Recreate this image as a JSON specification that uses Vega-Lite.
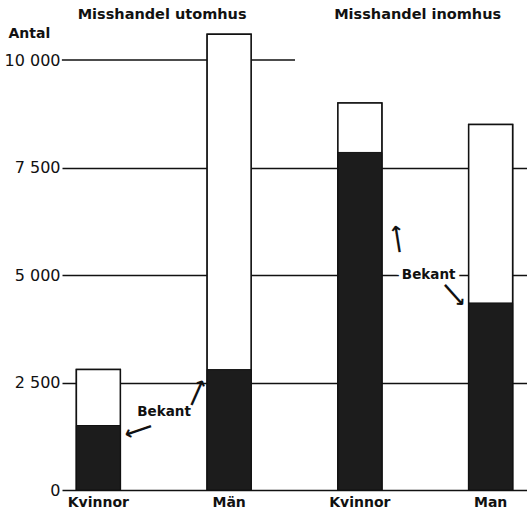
{
  "$schema": "https://vega.github.io/schema/vega-lite/v6.json",
  "width": 465,
  "height": 473,
  "autosize": {"type": "none"},
  "padding": {"left": 62, "top": 17, "right": 0, "bottom": 26},
  "background": "white",
  "config": {"view": {"stroke": null}, "font": "DejaVu Sans"},
  "data": {"values": [
    {"bar": "Kvinnor", "grupp": "utomhus", "totalt": 2800, "bekant": 1500},
    {"bar": "Män", "grupp": "utomhus", "totalt": 10600, "bekant": 2800},
    {"bar": "Kvinnor ", "grupp": "inomhus", "totalt": 9000, "bekant": 7850},
    {"bar": "Man", "grupp": "inomhus", "totalt": 8500, "bekant": 4350}
  ]},
  "encoding": {
    "x": {
      "field": "bar", "type": "nominal", "sort": null,
      "scale": {"type": "band", "paddingInner": 0.664, "paddingOuter": 0.11},
      "axis": {"title": null, "labelAngle": 0, "ticks": false, "domain": true, "domainColor": "#111", "domainWidth": 1.6,
               "labelFont": "DejaVu Sans", "labelFontWeight": "bold", "labelFontSize": 14, "labelColor": "#111", "labelPadding": 5}
    }
  },
  "layer": [
    {
      "mark": {"type": "bar", "fill": "white", "stroke": "#111", "strokeWidth": 1.5},
      "encoding": {
        "y": {
          "field": "totalt", "type": "quantitative",
          "scale": {"domain": [0, 11000], "nice": false},
          "axis": {
            "values": [0, 2500, 5000, 7500, 10000],
            "labelExpr": "replace(format(datum.value, ','), ',', ' ')",
            "labelFont": "DejaVu Sans", "labelFontSize": 16, "labelColor": "#111", "labelPadding": 2,
            "ticks": false, "domain": false,
            "grid": true, "gridColor": "#111", "gridWidth": 1.5,
            "gridOpacity": {"condition": {"test": "datum.value === 10000 || datum.value === 0", "value": 0}, "value": 1},
            "title": "Antal", "titleFont": "DejaVu Sans", "titleAngle": 0, "titleAlign": "left", "titleBaseline": "middle",
            "titleX": -54, "titleY": 16, "titleFontSize": 14, "titleFontWeight": "bold", "titleColor": "#111"
          }
        }
      }
    },
    {
      "data": {"values": [{}]},
      "mark": {"type": "rule", "stroke": "#111", "strokeWidth": 1.5},
      "encoding": {
        "x": {"datum": "Kvinnor", "bandPosition": -0.33},
        "x2": {"datum": "Män", "bandPosition": 2.0},
        "y": {"datum": 10000}
      }
    },
    {
      "mark": {"type": "bar", "fill": "white", "stroke": "#111", "strokeWidth": 1.5},
      "encoding": {"y": {"field": "totalt", "type": "quantitative"}}
    },
    {
      "mark": {"type": "bar", "fill": "#1c1c1c", "stroke": "#111", "strokeWidth": 1},
      "encoding": {"y": {"field": "bekant", "type": "quantitative"}}
    },
    {
      "data": {"values": [{}]},
      "mark": {"type": "text", "text": "Misshandel utomhus", "fontWeight": "bold", "fontSize": 14.5, "fill": "#111", "dx": -67, "baseline": "middle"},
      "encoding": {"x": {"datum": "Män"}, "y": {"datum": 11050}}
    },
    {
      "data": {"values": [{}]},
      "mark": {"type": "text", "text": "Misshandel inomhus", "fontWeight": "bold", "fontSize": 14.5, "fill": "#111", "dx": -73, "baseline": "middle"},
      "encoding": {"x": {"datum": "Man"}, "y": {"datum": 11050}}
    },
    {
      "data": {"values": [{}]},
      "mark": {"type": "text", "text": "Bekant", "fontWeight": "bold", "fontSize": 13.5, "fill": "#111", "dx": -65, "baseline": "middle"},
      "encoding": {"x": {"datum": "Män"}, "y": {"datum": 1814}}
    },
    {
      "data": {"values": [{}]},
      "mark": {"type": "text", "text": "Bekant", "fontWeight": "bold", "fontSize": 13.5, "stroke": "white", "strokeWidth": 8, "fill": "white", "dx": -62, "baseline": "middle"},
      "encoding": {"x": {"datum": "Man"}, "y": {"datum": 5000}}
    },
    {
      "data": {"values": [{}]},
      "mark": {"type": "text", "text": "Bekant", "fontWeight": "bold", "fontSize": 13.5, "fill": "#111", "dx": -62, "baseline": "middle"},
      "encoding": {"x": {"datum": "Man"}, "y": {"datum": 5000}}
    },
    {
      "data": {"values": [{}]},
      "mark": {"type": "text", "text": "⟶", "fontSize": 20, "fontWeight": "bold", "fill": "#111", "angle": 161, "baseline": "middle"},
      "encoding": {"x": {"datum": "Kvinnor", "bandPosition": 1.41}, "y": {"datum": 1395}}
    },
    {
      "data": {"values": [{}]},
      "mark": {"type": "text", "text": "⟶", "fontSize": 20, "fontWeight": "bold", "fill": "#111", "angle": 294, "baseline": "middle"},
      "encoding": {"x": {"datum": "Män", "bandPosition": -0.229}, "y": {"datum": 2256}}
    },
    {
      "data": {"values": [{}]},
      "mark": {"type": "text", "text": "⟶", "fontSize": 20, "fontWeight": "bold", "fill": "#111", "angle": 261, "baseline": "middle"},
      "encoding": {"x": {"datum": "Kvinnor ", "bandPosition": 1.366}, "y": {"datum": 5837}}
    },
    {
      "data": {"values": [{}]},
      "mark": {"type": "text", "text": "⟶", "fontSize": 20, "fontWeight": "bold", "fill": "#111", "angle": 48, "baseline": "middle"},
      "encoding": {"x": {"datum": "Man", "bandPosition": -0.343}, "y": {"datum": 4535}}
    }
  ]
}
